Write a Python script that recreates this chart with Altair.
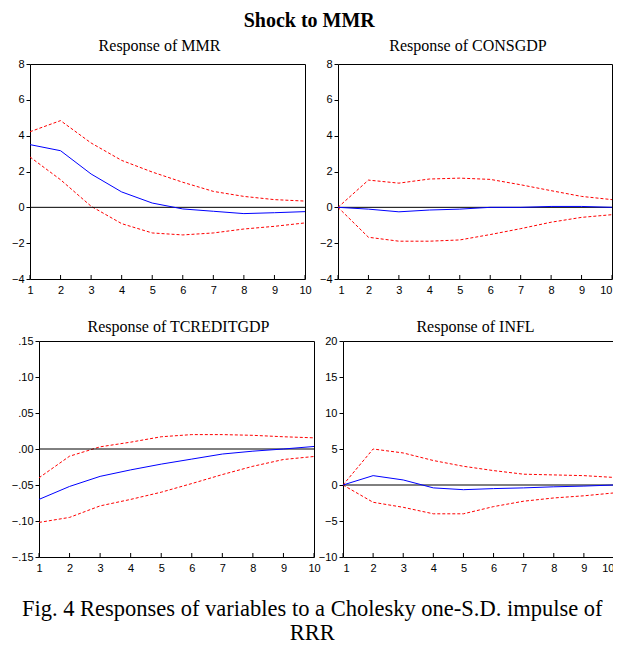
import altair as alt
import pandas as pd

steps = list(range(1, 11))

mmr_resp = [3.50, 3.16, 1.86, 0.86, 0.24, -0.09, -0.22, -0.35, -0.30, -0.24]
mmr_upper = [4.22, 4.84, 3.59, 2.62, 1.97, 1.40, 0.89, 0.61, 0.43, 0.35]
mmr_lower = [2.81, 1.54, 0.06, -0.91, -1.43, -1.54, -1.43, -1.21, -1.06, -0.87]

cons_resp = [0.0, -0.10, -0.25, -0.15, -0.10, 0.0, 0.0, 0.05, 0.05, 0.0]
cons_upper = [0.0, 1.52, 1.35, 1.58, 1.63, 1.56, 1.26, 0.93, 0.61, 0.43]
cons_lower = [0.0, -1.67, -1.89, -1.89, -1.82, -1.52, -1.19, -0.83, -0.56, -0.41]

tcr_resp = [-0.070, -0.052, -0.038, -0.029, -0.021, -0.014, -0.007, -0.003, 0.000, 0.0035]
tcr_upper = [-0.040, -0.010, 0.003, 0.0095, 0.017, 0.020, 0.020, 0.019, 0.017, 0.0155]
tcr_lower = [-0.102, -0.095, -0.079, -0.070, -0.060, -0.048, -0.0355, -0.024, -0.0146, -0.0104]

infl_resp = [0.0, 1.3, 0.7, -0.4, -0.65, -0.5, -0.4, -0.25, -0.15, 0.0]
infl_upper = [0.0, 5.0, 4.45, 3.4, 2.6, 2.0, 1.5, 1.4, 1.3, 1.05]
infl_lower = [0.0, -2.4, -3.1, -4.0, -4.0, -3.0, -2.25, -1.8, -1.5, -1.1]

ticks_a = [-4, -2, 0, 2, 4, 6, 8]
ticks_c = [-0.15, -0.10, -0.05, 0.0, 0.05, 0.10, 0.15]
ticks_d = [-10, -5, 0, 5, 10, 15, 20]

main_title = "Shock to MMR"
caption = ["Fig. 4 Responses of variables to a Cholesky one-S.D. impulse of", "RRR"]

SANS = "Liberation Sans"
SERIF = "Liberation Serif"


def panel(title, resp, upper, lower, domain, ticks, title_dx, title_offset,
          width=275, height=215, label_expr=None, flush=False):
    df = pd.DataFrame({
        "step": steps * 3,
        "series": ["resp"] * 10 + ["upper"] * 10 + ["lower"] * 10,
        "value": resp + upper + lower,
    })
    yaxis_kw = dict(values=ticks, tickCount=len(ticks), title=None, grid=False, tickSize=4,
                    tickColor="black", labelPadding=2, domain=False, labelOverlap=False,
                    labelFont=SANS, labelFontSize=11, labelColor="black")
    if label_expr:
        yaxis_kw["labelExpr"] = label_expr
    base = alt.Chart(df).encode(
        x=alt.X("step:Q", scale=alt.Scale(domain=[1, 10], nice=False),
                axis=alt.Axis(values=steps, tickCount=len(steps), title=None, grid=False,
                              ticks=False, domain=False, labelPadding=5, labelFont=SANS,
                              labelFontSize=11, labelColor="black", labelFlush=flush,
                              labelOverlap=False)),
        y=alt.Y("value:Q", scale=alt.Scale(domain=domain, nice=False, zero=False),
                axis=alt.Axis(**yaxis_kw)),
    )
    bands = base.transform_filter("datum.series != 'resp'").mark_line(
        color="#ff0000", strokeWidth=1, strokeDash=[3, 2]).encode(detail="series:N")
    line = base.transform_filter("datum.series == 'resp'").mark_line(
        color="#0000ff", strokeWidth=1)
    zero = base.transform_filter("datum.series == 'resp' && datum.step == 1").mark_rule(
        color="black", strokeWidth=1).encode(x=alt.value(0), x2=alt.value(width),
                                             y=alt.datum(0))
    xt = base.transform_filter("datum.series == 'resp'").mark_rule(
        color="black", strokeWidth=1).encode(y=alt.value(height), y2=alt.value(height - 4))
    return alt.layer(bands, zero, line, xt).properties(
        width=width, height=height,
        title=alt.TitleParams(title, font=SERIF, fontSize=16, fontWeight="normal",
                              anchor="middle", frame="group", color="black",
                              baseline="alphabetic", offset=title_offset, dx=title_dx),
    )


def spacer(w):
    return alt.Chart(pd.DataFrame({"s": [0]})).mark_text(text="", opacity=0).encode(
        x=alt.value(0), y=alt.value(0)).properties(
        width=w, height=1, view=alt.ViewBackground(strokeOpacity=0))


p1 = panel("Response of MMR", mmr_resp, mmr_upper, mmr_lower, [-4, 8], ticks_a, -8, -8.5)
p2 = panel("Response of CONSGDP", cons_resp, cons_upper, cons_lower, [-4, 8], ticks_a, -7,
           -8.5, width=274, flush=True)
p3 = panel("Response of TCREDITGDP", tcr_resp, tcr_upper, tcr_lower, [-0.15, 0.15], ticks_c, 2,
           -13, height=216, label_expr="replace(format(datum.value, '.2f'), '0.', '.')")
p4 = panel("Response of INFL", infl_resp, infl_upper, infl_lower, [-10, 20], ticks_d, -3,
           -13, width=271, height=216, flush=True)

row1 = alt.hconcat(spacer(2), alt.hconcat(p1, p2, spacing=6), spacing=0).properties(
    title=alt.TitleParams(main_title, font=SERIF, fontSize=20, fontWeight="bold",
                          anchor="middle", color="black", baseline="alphabetic", offset=-10,
                          dx=-2))
row2 = alt.hconcat(spacer(2), alt.hconcat(p3, p4, spacing=-4), spacing=0)

chart = alt.vconcat(row1, row2, spacing=22).properties(
    autosize=alt.AutoSizeParams(type="none"),
    background="white",
    padding={"left": 0, "top": 56, "right": 605, "bottom": 581},
    title=alt.TitleParams(caption, orient="bottom", anchor="middle", font=SERIF,
                          fontSize=22.5, fontWeight="normal", lineHeight=24, color="black",
                          baseline="top", offset=24),
).configure_view(stroke="black", strokeWidth=1).configure_axis(labelOverlap=False)

chart.save("out.html", embed_options={"renderer": "svg", "actions": False})
